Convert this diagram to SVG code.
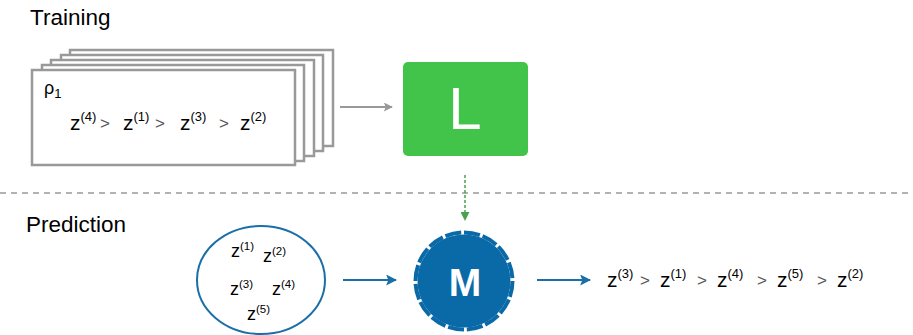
<svg xmlns="http://www.w3.org/2000/svg" width="913" height="335" viewBox="0 0 913 335">
<defs>
<style>
.t{font-family:"Liberation Sans",Arial,sans-serif;fill:#000}
.sup{font-size:13px}
.gt{font-family:"Liberation Sans",Arial,sans-serif;fill:#555;font-size:17px}
.card{fill:#fff;stroke:#999;stroke-width:2.5}
</style>
<marker id="ag" viewBox="0 0 10 10" refX="9" refY="5" markerWidth="11" markerHeight="9" orient="auto" markerUnits="userSpaceOnUse"><path d="M0,0 L10,5 L0,10 L2,5 z" fill="#999"/></marker>
<marker id="agr" viewBox="0 0 10 10" refX="9" refY="5" markerWidth="9" markerHeight="9" orient="auto" markerUnits="userSpaceOnUse"><path d="M0,0 L10,5 L0,10 z" fill="#4aa14e"/></marker>
<marker id="ab" viewBox="0 0 10 10" refX="9" refY="5" markerWidth="11" markerHeight="11" orient="auto" markerUnits="userSpaceOnUse"><path d="M0,0 L10,5 L0,10 L2,5 z" fill="#1a6fa8"/></marker>
</defs>
<rect width="913" height="335" fill="#fff"/>
<text class="t" x="30" y="25" font-size="22.5">Training</text>
<text class="t" x="26" y="232" font-size="22.5">Prediction</text>
<line x1="0" y1="193" x2="913" y2="193" stroke="#999" stroke-width="1.5" stroke-dasharray="6,5"/>
<g id="cards">
<rect class="card" x="70" y="50" width="263" height="96"/>
<rect class="card" x="61" y="55" width="262" height="96"/>
<rect class="card" x="51" y="60" width="263" height="96"/>
<rect class="card" x="42" y="65" width="262" height="96"/>
<rect class="card" x="32" y="70" width="263" height="95"/>
<text class="t" x="44" y="94" font-size="18">ρ<tspan font-size="13" dy="4">1</tspan></text>
<text class="t" x="70" y="130" font-size="21">z<tspan class="sup" dy="-9">(4)</tspan></text>
<text class="gt" x="100" y="129">&gt;</text>
<text class="t" x="123" y="130" font-size="21">z<tspan class="sup" dy="-9">(1)</tspan></text>
<text class="gt" x="155" y="129">&gt;</text>
<text class="t" x="180" y="130" font-size="21">z<tspan class="sup" dy="-9">(3)</tspan></text>
<text class="gt" x="219" y="129">&gt;</text>
<text class="t" x="240" y="130" font-size="21">z<tspan class="sup" dy="-9">(2)</tspan></text>
</g>
<g id="L">
<rect x="403" y="62" width="125" height="94" rx="5" fill="#42c44b"/>
<text x="465" y="129" font-family="Liberation Sans,Arial,sans-serif" font-size="60" fill="#fff" text-anchor="middle">L</text>
</g>
<g id="input">
<ellipse cx="261" cy="280" rx="64" ry="54" fill="#fff" stroke="#1a6fa8" stroke-width="2"/>
<text class="t" x="231" y="257" font-size="18">z<tspan font-size="11.5" dy="-7">(1)</tspan></text>
<text class="t" x="263" y="262" font-size="18">z<tspan font-size="11.5" dy="-7">(2)</tspan></text>
<text class="t" x="230" y="295" font-size="18">z<tspan font-size="11.5" dy="-7">(3)</tspan></text>
<text class="t" x="272" y="295" font-size="18">z<tspan font-size="11.5" dy="-7">(4)</tspan></text>
<text class="t" x="247" y="320" font-size="18">z<tspan font-size="11.5" dy="-7">(5)</tspan></text>
</g>
<g id="M">
<circle cx="464" cy="281" r="46.5" fill="#0a6aa8"/>
<circle cx="464" cy="281" r="48.5" fill="none" stroke="#0a6aa8" stroke-width="4" pathLength="160" stroke-dasharray="8.5,1.5"/>
<text x="465" y="296" font-family="Liberation Sans,Arial,sans-serif" font-size="39" font-weight="bold" fill="#fff" text-anchor="middle">M</text>
</g>
<g id="output">
<text class="t" x="607" y="287" font-size="21">z<tspan class="sup" dy="-9">(3)</tspan></text>
<text class="gt" x="640" y="286">&gt;</text>
<text class="t" x="660" y="287" font-size="21">z<tspan class="sup" dy="-9">(1)</tspan></text>
<text class="gt" x="697" y="286">&gt;</text>
<text class="t" x="717" y="287" font-size="21">z<tspan class="sup" dy="-9">(4)</tspan></text>
<text class="gt" x="757" y="286">&gt;</text>
<text class="t" x="777" y="287" font-size="21">z<tspan class="sup" dy="-9">(5)</tspan></text>
<text class="gt" x="817" y="286">&gt;</text>
<text class="t" x="837" y="287" font-size="21">z<tspan class="sup" dy="-9">(2)</tspan></text>
</g>
<g id="connectors">
<line x1="340" y1="107" x2="392" y2="107" stroke="#999" stroke-width="2" marker-end="url(#ag)"/>
<line x1="465" y1="175" x2="465" y2="220" stroke="#4aa14e" stroke-width="1.5" stroke-dasharray="3,2" marker-end="url(#agr)"/>
<line x1="343" y1="280" x2="396" y2="280" stroke="#1a6fa8" stroke-width="2" marker-end="url(#ab)"/>
<line x1="537" y1="280" x2="590" y2="280" stroke="#1a6fa8" stroke-width="2" marker-end="url(#ab)"/>
</g>
</svg>
